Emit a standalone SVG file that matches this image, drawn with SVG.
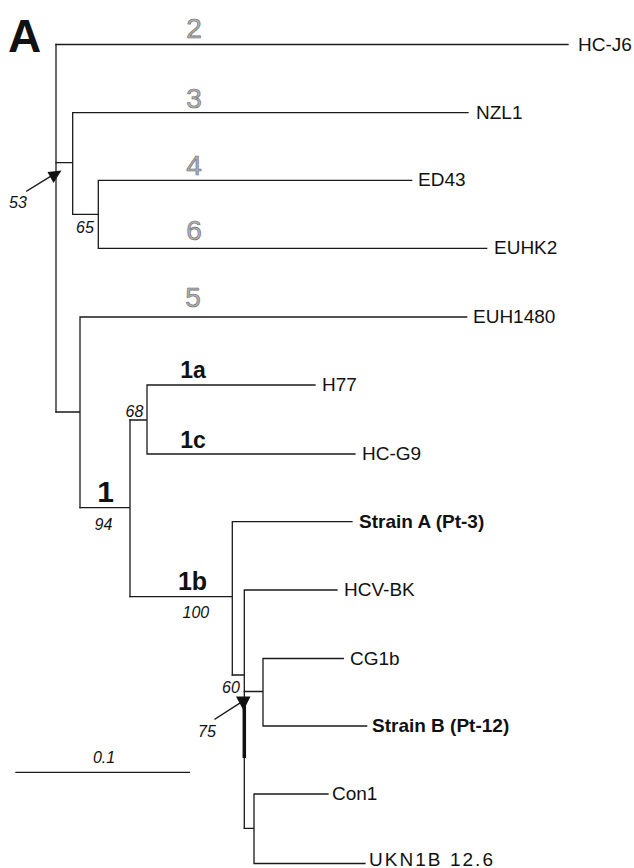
<svg xmlns="http://www.w3.org/2000/svg" width="634" height="868" viewBox="0 0 634 868">
<style>
.br{stroke:#1a1a1a;stroke-width:1.3;fill:none;stroke-linecap:square}
.lf{font-family:"Liberation Sans",Arial,sans-serif;font-size:19px;fill:#111}
.lfb{font-family:"Liberation Sans",Arial,sans-serif;font-size:19px;font-weight:bold;fill:#111}
.gt{font-family:"Liberation Sans",Arial,sans-serif;font-size:28px;fill:#b0b0b0;stroke:#6a6a6a;stroke-width:0.6;text-anchor:middle}
.st{font-family:"Liberation Sans",Arial,sans-serif;font-weight:bold;fill:#111;text-anchor:middle}
.bs{font-family:"Liberation Sans",Arial,sans-serif;font-style:italic;font-size:16px;fill:#111}
.ah{fill:#111}
</style>
<rect width="634" height="868" fill="#fff"/>
<text x="8" y="51.7" font-family="Liberation Sans,Arial,sans-serif" font-weight="bold" font-size="46" fill="#111">A</text>

<g id="connectors">
  <path class="br" d="M56,44.5V412"/>
  <path class="br" d="M56,44.5H568"/>
  <path class="br" d="M56,162.7H72.7M72.7,112.7V214.3M72.7,112.7H468"/>
  <path class="br" d="M72.7,214.3H98.3M98.3,180.3V248.3M98.3,180.3H411.7M98.3,248.3H486.7"/>
  <path class="br" d="M56,412H80M80,317V507.7M80,317H466.7"/>
  <path class="br" d="M80,507.7H130M130,420V596.7"/>
  <path class="br" d="M130,420H147M147,385V454M147,385H315M147,454H355"/>
  <path class="br" d="M130,596.7H232.3M232.3,521.7V675M232.3,521.7H352"/>
  <path class="br" d="M232.3,675H244.3M244.3,590V828.3M244.3,590H337"/>
  <path class="br" d="M244.3,691.5H263M263,658.5V726M263,658.5H343.3M263,726H366.7"/>
  <path class="br" d="M244.3,828.3H254M254,794V863.5M254,794H328M254,863.5H365"/>
  <path d="M244.3,700V758" stroke="#111" stroke-width="3.5" fill="none"/>
  <path class="br" d="M26.7,191L52,175.5"/>
  <polygon class="ah" points="47.5,172 61.5,170.5 53.5,183"/>
  <path class="br" d="M215,719L240,703"/>
  <polygon class="ah" points="236,696.5 250.5,696.5 243.5,710.5"/>
  <path class="br" d="M16,772.3H189.3"/>
</g>

<g id="clade-2"><text class="gt" x="194" y="38">2</text></g>
<g id="clade-3"><text class="gt" x="194" y="108">3</text></g>
<g id="clade-4"><text class="gt" x="194" y="175">4</text></g>
<g id="clade-6"><text class="gt" x="194" y="240">6</text></g>
<g id="clade-5"><text class="gt" x="193" y="306.5">5</text></g>
<g id="clade-1a"><text class="st" x="193" y="378" font-size="23">1a</text></g>
<g id="clade-1c"><text class="st" x="193" y="448" font-size="23">1c</text></g>
<g id="clade-1"><text class="st" x="105.5" y="501.5" font-size="30">1</text></g>
<g id="clade-1b"><text class="st" x="192.5" y="590" font-size="25">1b</text></g>

<g id="bootstrap">
  <text class="bs" x="9" y="208">53</text>
  <text class="bs" x="76" y="233">65</text>
  <text class="bs" x="125.5" y="416.5">68</text>
  <text class="bs" x="94.5" y="530">94</text>
  <text class="bs" x="182.5" y="618">100</text>
  <text class="bs" x="222" y="693">60</text>
  <text class="bs" x="198" y="737">75</text>
</g>

<g id="leaf-HC-J6"><text class="lf" x="578" y="50.7">HC-J6</text></g>
<g id="leaf-NZL1"><text class="lf" x="476" y="118.7">NZL1</text></g>
<g id="leaf-ED43"><text class="lf" x="418" y="186.3">ED43</text></g>
<g id="leaf-EUHK2"><text class="lf" x="494" y="254.3">EUHK2</text></g>
<g id="leaf-EUH1480"><text class="lf" x="473" y="323">EUH1480</text></g>
<g id="leaf-H77"><text class="lf" x="322" y="391">H77</text></g>
<g id="leaf-HC-G9"><text class="lf" x="362" y="460">HC-G9</text></g>
<g id="leaf-StrainA"><text class="lfb" x="359" y="527.7">Strain A (Pt-3)</text></g>
<g id="leaf-HCV-BK"><text class="lf" x="344" y="596">HCV-BK</text></g>
<g id="leaf-CG1b"><text class="lf" x="350" y="664.5">CG1b</text></g>
<g id="leaf-StrainB"><text class="lfb" x="372" y="732">Strain B (Pt-12)</text></g>
<g id="leaf-Con1"><text class="lf" x="332" y="800">Con1</text></g>
<g id="leaf-UKN1B"><text class="lf" x="369" y="865.5" textLength="124" lengthAdjust="spacing">UKN1B 12.6</text></g>

<g id="scale"><text class="bs" x="104" y="762.7" font-size="14" text-anchor="middle">0.1</text></g>
</svg>
